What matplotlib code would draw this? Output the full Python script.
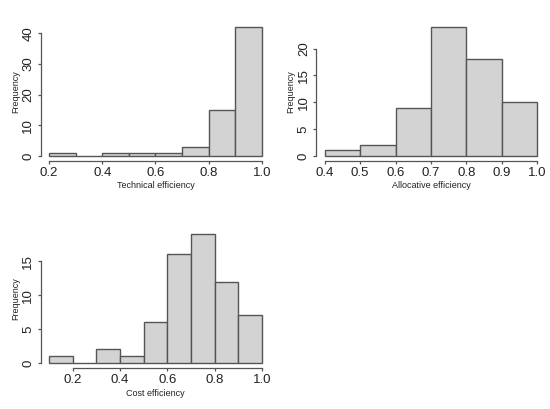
import numpy as np
import matplotlib.pyplot as plt

plt.rcParams['font.family'] = ['Liberation Sans', 'DejaVu Sans']

# bin edges and counts
tech_edges = [0.2, 0.3, 0.4, 0.5, 0.6, 0.7, 0.8, 0.9, 1.0]
tech_counts = [1, 0, 1, 1, 1, 3, 15, 42]
alloc_edges = [0.4, 0.5, 0.6, 0.7, 0.8, 0.9, 1.0]
alloc_counts = [1, 2, 9, 24, 18, 10]
cost_edges = [0.1, 0.2, 0.3, 0.4, 0.5, 0.6, 0.7, 0.8, 0.9, 1.0]
cost_counts = [1, 0, 2, 1, 6, 16, 19, 12, 7]

tech_xticks = [0.2, 0.4, 0.6, 0.8, 1.0]
tech_yticks = [0, 10, 20, 30, 40]
alloc_xticks = [0.4, 0.5, 0.6, 0.7, 0.8, 0.9, 1.0]
alloc_yticks = [0, 5, 10, 15, 20]
cost_xticks = [0.2, 0.4, 0.6, 0.8, 1.0]
cost_yticks = [0, 5, 10, 15]

W, H = 550, 409
fig = plt.figure(figsize=(W / 100, H / 100), dpi=100)

axis_col = '#555555'


def r_hist(rect, edges, counts, xticks, yticks, xlabel):
    ax = fig.add_axes([rect[0] / W, 1 - rect[3] / H, (rect[2] - rect[0]) / W, (rect[3] - rect[1]) / H])
    edges = np.array(edges)
    ax.bar(edges[:-1], counts, width=np.diff(edges), align='edge',
           color='#d3d3d3', edgecolor='#555555', linewidth=1.0)
    # R style 4% padding
    xr = edges[-1] - edges[0]
    yr = max(counts)
    ax.set_xlim(edges[0] - 0.04 * xr, edges[-1] + 0.04 * xr)
    ax.set_ylim(-0.04 * yr, yr * 1.04)
    for s in ['top', 'right']:
        ax.spines[s].set_visible(False)
    ax.spines['bottom'].set_bounds(xticks[0], xticks[-1])
    ax.spines['left'].set_bounds(yticks[0], yticks[-1])
    for s in ['bottom', 'left']:
        ax.spines[s].set_color(axis_col)
        ax.spines[s].set_linewidth(0.9)
    ax.set_xticks(xticks)
    ax.set_xticklabels([f'{t:.1f}' for t in xticks])
    ax.set_yticks(yticks)
    ax.set_yticklabels([str(t) for t in yticks], rotation=90, va='center')
    ax.tick_params(direction='out', length=2.4, width=0.9, color=axis_col,
                   labelsize=9.5, labelcolor='#222222', pad=2)
    ax.text(0.5, -25 / (rect[3] - rect[1]), xlabel, transform=ax.transAxes,
            ha='center', va='center', fontsize=6.5, color='#222222')
    ax.text(-25 / (rect[2] - rect[0]), 0.5, 'Frequency', transform=ax.transAxes,
            ha='center', va='center', rotation=90, fontsize=6.5, color='#222222')
    return ax


r_hist((40.5, 22, 270.5, 161), tech_edges, tech_counts, tech_xticks, tech_yticks, 'Technical efficiency')
r_hist((316, 22, 546, 161), alloc_edges, alloc_counts, alloc_xticks, alloc_yticks, 'Allocative efficiency')
r_hist((40.5, 229, 270.5, 368), cost_edges, cost_counts, cost_xticks, cost_yticks, 'Cost efficiency')

fig.savefig('out.png', dpi=100)
